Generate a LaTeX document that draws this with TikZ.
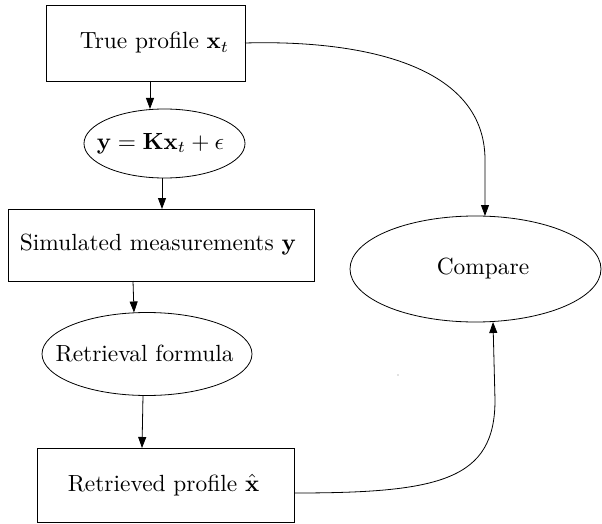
\documentclass[tikz,border=0pt]{standalone}
\usepackage{graphicx}
\usetikzlibrary{arrows.meta,shapes.geometric}
\newcommand{\bigtxt}[1]{\scalebox{2.34}{#1}}
\tikzset{
  base/.style={draw=black, line width=0.8pt, inner sep=0pt, outer sep=0pt},
  boxnode/.style={base, rectangle},
  ellnode/.style={base, ellipse, inner xsep=-60pt, inner ysep=-20pt},
  arr/.style={line width=0.8pt, -{Triangle[length=11pt,width=8pt]}}
}
\begin{document}
\begin{tikzpicture}[x=1pt,y=-1pt]
\useasboundingbox (0,0) rectangle (602,524);

\node[boxnode, minimum width=199pt, minimum height=76pt] (b1) at (145.5,43)
  {\hspace*{18pt}\bigtxt{True profile $\mathbf{x}_t$}};
\node[ellnode, minimum width=161pt, minimum height=69pt] (e2) at (164.5,143.5)
  {\bigtxt{$\mathbf{y}=\mathbf{K}\mathbf{x}_t+\epsilon$}\hspace*{8pt}};
\node[boxnode, minimum width=306pt, minimum height=72pt] (b3) at (161,245)
  {\bigtxt{Simulated measurements $\mathbf{y}$}\hspace*{6pt}};
\node[ellnode, minimum width=210pt, minimum height=83pt] (e4) at (147,354)
  {\bigtxt{Retrieval formula}\hspace*{5pt}};
\node[boxnode, minimum width=257pt, minimum height=74pt] (b5) at (166,485)
  {\bigtxt{Retrieved profile $\hat{\mathbf{x}}$}\hspace*{5pt}};
\node[ellnode, minimum width=251pt, minimum height=106pt] (c) at (475.5,269)
  {\hspace*{15pt}\bigtxt{Compare}};

\draw[arr] ([xshift=4.5pt]b1.south) -- ([xshift=4.5pt]b1.south |- e2.north);
\draw[arr] ([xshift=-2.5pt]e2.south) -- ([xshift=-2.5pt]e2.south |- b3.north);
\draw[arr] ([xshift=-28pt]b3.south) -- ([xshift=-13pt]e4.north);
\draw[arr] ([xshift=-4pt]e4.south) -- ([xshift=-24pt]b5.north);

\draw[arr] (b1.east) .. controls (350,40) and (485,60) .. (485,160)
  -- ([xshift=9.5pt]c.north);
\draw[arr] ([yshift=-8pt]b5.east) .. controls (440,493) and (495,480) .. (495,400)
  -- ([xshift=17.5pt]c.south);

\fill[gray] (398,375) circle (0.6pt);
\end{tikzpicture}
\end{document}
